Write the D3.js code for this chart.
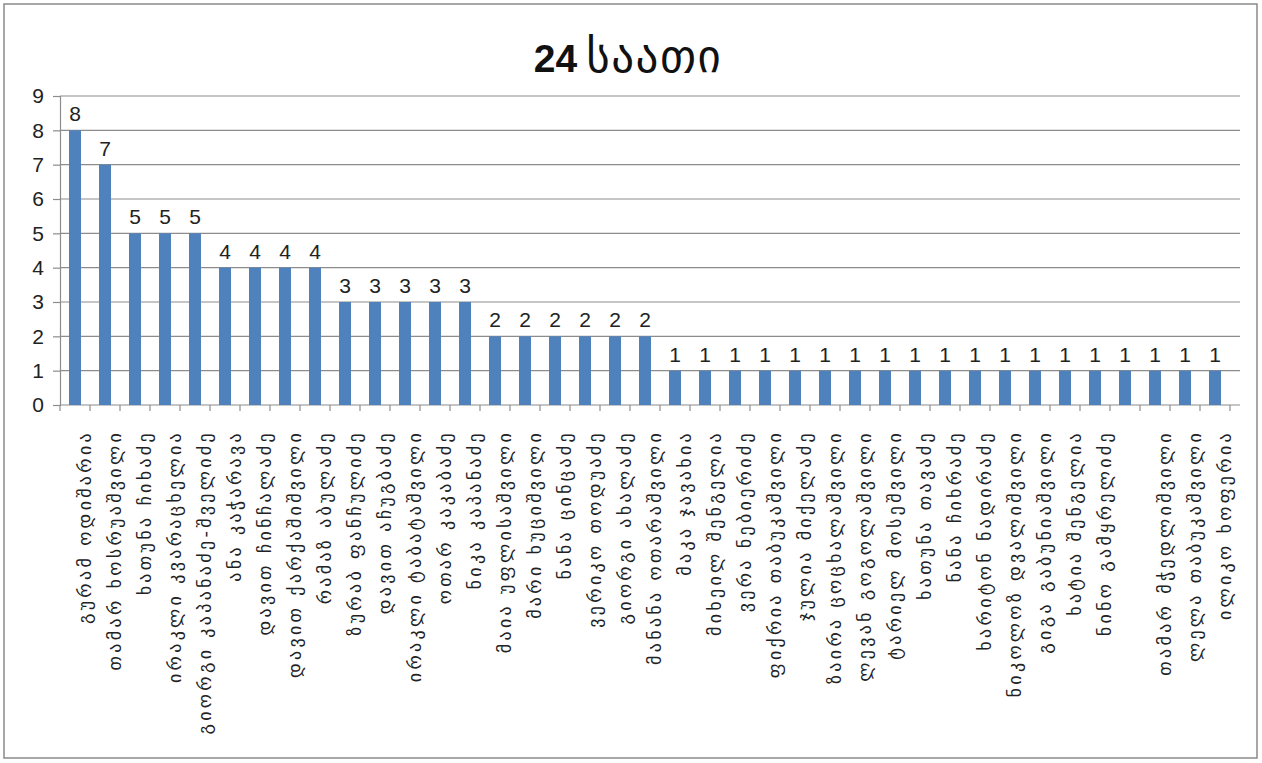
<!DOCTYPE html>
<html><head><meta charset="utf-8">
<script src="https://cdn.jsdelivr.net/npm/d3@7"></script>
<style>
html,body{margin:0;padding:0;background:#fff;}
svg{display:block;}
</style></head>
<body>
<svg id="chart" width="1262" height="763"></svg>
<script>
const titleNumber = "24";
const titleWord = "საათი";
const categories = [
  "გურამ ოდიშარია","თამარ ხოსრუაშვილი","ხათუნა ჩიხაძე","ირაკლი კვარაცხელია","გიორგი კაპანაძე-შველიძე",
  "ანა კაჭარავა","დავით ჩინჩალაძე","დავით ქარქაშიშვილი","რამაზ აბულაძე","ზურაბ ფანჩულიძე",
  "დავით აჩუგბაძე","ირაკლი ტაბატაშვილი","ოთარ კაკაბაძე","ნიკა კაპანაძე","მაია უფლისაშვილი",
  "მარი ხუციშვილი","ნანა ცინცაძე","ვერიკო თოდუაძე","გიორგი ახალაძე","მანანა ოთარაშვილი",
  "მაკა ჯავახია","მიხეილ შენგელია","ვერა ნებიერიძე","ფიქრია თაბუკაშვილი","ჯულია მიქელაძე",
  "ზაირა ცოცხალაშვილი","ლევან გოგოლაშვილი","ტარიელ მოსეშვილი","ხათუნა თავაძე","ნანა ჩიხრაძე",
  "ხარიტონ ნადირაძე","ნიკოლოზ დვალიშვილი","გიგა გაბუნიაშვილი","ხატია შენგელია","ნინო გამყრელიძე",
  "","თამარ მჭედლიშვილი","ლელა თაბუკაშვილი","ილიკო ხოფერია"
];
const values = [8,7,5,5,5,4,4,4,4,3,3,3,3,3,2,2,2,2,2,2,
  1,1,1,1,1,1,1,1,1,1,1,1,1,1,1,1,1,1,1];
const yTicks = [0,1,2,3,4,5,6,7,8,9];

const svg = d3.select("#chart");
const W = 1262, H = 763;
const plot = {left: 60, right: 1230, top: 96, bottom: 405};

svg.append("rect").attr("x",4).attr("y",4).attr("width",W-9).attr("height",H-9)
  .attr("fill","#fff").attr("stroke","#8a8a8a").attr("stroke-width",1.5);

const ids = categories.map((c,i)=>i);
const x = d3.scaleBand().domain(ids).range([plot.left, plot.right]).paddingInner(0.6).paddingOuter(0.3);
const y = d3.scaleLinear().domain([0,9]).range([plot.bottom, plot.top]);

// gridlines
svg.append("g").selectAll("line").data(yTicks.filter(t=>t>0)).join("line")
  .attr("x1", plot.left).attr("x2", 1240)
  .attr("y1", d=>y(d)).attr("y2", d=>y(d))
  .attr("stroke","#8c8c8c").attr("stroke-width",1.2);

// y axis
const yAxis = svg.append("g").attr("transform",`translate(${plot.left},0)`)
  .call(d3.axisLeft(y).tickValues(yTicks).tickSize(7).tickPadding(9).tickFormat(d3.format("d")));
yAxis.select(".domain").attr("stroke","#8c8c8c").attr("stroke-width",1.2);
yAxis.selectAll(".tick line").attr("stroke","#8c8c8c").attr("stroke-width",1.2);
yAxis.selectAll("text").attr("font-family","Liberation Sans, Arial, sans-serif")
  .attr("font-size",21).attr("fill","#222");

// x axis
const bandStep = x.step();
const xAxis = svg.append("g").attr("transform",`translate(0,${plot.bottom})`);
xAxis.append("line").attr("x1",plot.left).attr("x2",1240).attr("y1",0).attr("y2",0)
  .attr("stroke","#8c8c8c").attr("stroke-width",1.2);
xAxis.selectAll("line.tk").data(d3.range(ids.length+1)).join("line").attr("class","tk")
  .attr("x1", i=> i<ids.length ? x(i) - (bandStep - x.bandwidth())/2 : plot.right)
  .attr("x2", i=> i<ids.length ? x(i) - (bandStep - x.bandwidth())/2 : plot.right)
  .attr("y1",0).attr("y2",6).attr("stroke","#8c8c8c").attr("stroke-width",1.2);

// bars
svg.append("g").selectAll("rect").data(values).join("rect")
  .attr("x",(d,i)=>x(i)).attr("width",x.bandwidth())
  .attr("y",d=>y(d)).attr("height",d=>y(0)-y(d))
  .attr("fill","#4f81bd");

// data labels
svg.append("g").selectAll("text").data(values).join("text")
  .attr("x",(d,i)=>x(i)+x.bandwidth()/2).attr("y",d=>y(d)-9)
  .attr("text-anchor","middle")
  .attr("font-family","Liberation Sans, Arial, sans-serif").attr("font-size",21).attr("fill","#222")
  .text(d=>d);

// category labels
svg.append("g").selectAll("text").data(categories).join("text")
  .attr("transform",(d,i)=>`translate(${x(i)+x.bandwidth()/2+16},430) rotate(-90)`)
  .attr("text-anchor","end")
  .attr("font-family","DejaVu Sans, sans-serif").attr("font-size",18).attr("letter-spacing",3.3)
  .attr("fill","#222")
  .text(d=>d);

// title
const t = svg.append("text").attr("x",628).attr("y",72).attr("text-anchor","middle")
  .attr("font-family","Liberation Sans, Arial, sans-serif").attr("font-size",39).attr("fill","#111");
t.append("tspan").attr("font-weight","bold").text(titleNumber);
t.append("tspan").attr("dx",9).attr("font-family","DejaVu Sans, sans-serif").attr("font-weight","normal")
  .attr("font-size",45).attr("letter-spacing",1.5).text(titleWord);
</script>
</body></html>
